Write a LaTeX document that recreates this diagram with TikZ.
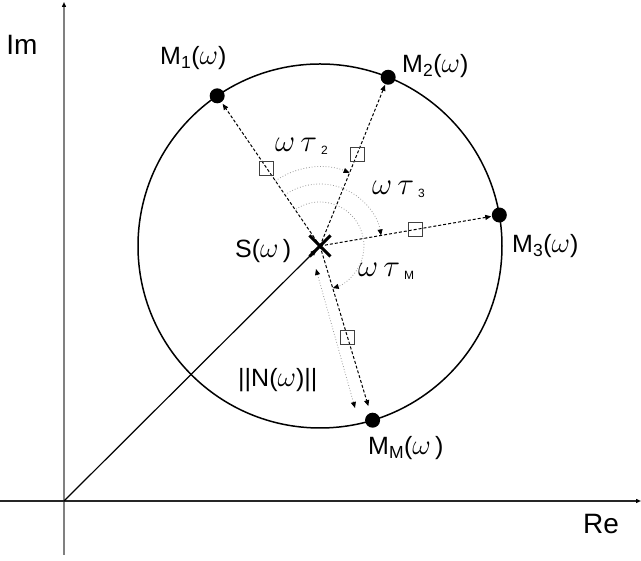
\documentclass[tikz,border=0pt]{standalone}
\usepackage{fontspec}
\usepackage{graphicx}
\setmainfont{Liberation Sans}
\newcommand{\om}{\scalebox{1.15}{\(\omega\)}}
\newcommand{\omt}{\scalebox{1.25}{\(\omega\,\tau\)}}
\usetikzlibrary{arrows.meta,calc,shapes.misc}
\begin{document}
\begin{tikzpicture}[x=1pt,y=1pt,
  lab/.style={font=\fontsize{25}{30}\selectfont, inner sep=0pt, anchor=base west},
  axlab/.style={font=\fontsize{28}{32}\selectfont, inner sep=0pt},
  ang/.style={font=\fontsize{24}{28}\selectfont, inner sep=0pt, anchor=base west},
  dot/.style={circle, fill=black, minimum size=15pt, inner sep=0pt},
  sq/.style={draw=black!75, line width=0.8pt, minimum size=14pt, inner sep=0pt},
  tip/.style={-{Triangle[length=6pt,width=5pt,color=black]}},
  ray/.style={dash pattern=on 3pt off 2pt, line width=1pt, tip},
  arcst/.style={black!40, dotted, line width=0.8pt, tip},
  axis/.style={line width=1.4pt, -{Triangle[length=5pt,width=4pt,color=black]}}
]
\useasboundingbox (0,0) rectangle (641,561);
% axes
\coordinate (O) at (64,60);
\coordinate (Ytop) at (64,559);
\coordinate (Ybot) at (64,6);
\coordinate (Xl) at (0,60);
\coordinate (Xr) at (641,60);
\draw[axis, black!50] (Ybot) -- (Ytop);
\draw[axis, black!85] (Xl) -- (Xr);
\node[axlab] (im) at (22,516) {Im};
\node[axlab] (re) at (601,37) {Re};
% centre and circle
\coordinate (S) at (320,315);
\draw[line width=1.5pt] (S) circle[radius=182];
\node[dot] (M1) at ($(S)+(124.4:182)$) {};
\node[dot] (M2) at ($(S)+(68:182)$) {};
\node[dot] (M3) at ($(S)+(9.8:182)$) {};
\node[dot] (MM) at ($(S)+(-73.2:182)$) {};
% rays
\draw[ray, shorten >=2pt] (S) -- (M1);
\draw[ray, shorten >=0.5pt] (S) -- (M2);
\draw[ray, shorten >=0.5pt] (S) -- (M3);
\draw[ray, shorten >=7pt] (S) -- (MM);
% squares
\node[sq] (Q1) at ($(S)!94pt!(M1)$) {};
\node[sq] (Q2) at ($(S)!99pt!(M2)$) {};
\node[sq] (Q3) at ($(S)!97pt!(M3)$) {};
\node[sq] (QM) at ($(S)!95pt!(MM)$) {};
% angle arcs
\draw[arcst] ($(S)+(124.4:79)$) arc[start angle=124.4, end angle=68, radius=79];
\draw[arcst] ($(S)+(124.4:62)$) arc[start angle=124.4, end angle=9.8, radius=62];
\draw[arcst] ($(S)+(123:44)$) arc[start angle=123, end angle=-73.2, radius=44];
% norm indicator
\coordinate (N1) at (316,292);
\coordinate (N2) at (355,153);
\draw[black!40, dotted, line width=0.8pt, {Triangle[length=6pt,width=5pt,color=black]}-{Triangle[length=6pt,width=5pt,color=black]}] (N1) -- (N2);
% vector from origin
\draw[line width=1.2pt, -{Triangle[length=7pt,width=5pt]}, shorten >=4pt] (O) -- (S);
% cross
\node[cross out, draw, line width=3pt, minimum size=18pt, inner sep=0pt] (Sx) at (S) {};
% labels
\node[lab] (l1) at (160,496) {M\textsubscript{1}(\om)};
\node[lab] (l2) at (402,488) {M\textsubscript{2}(\om)};
\node[lab] (l3) at (512,308) {M\textsubscript{3}(\om)};
\node[lab] (lM) at (368,106) {M\textsubscript{M}(\om\,)};
\node[lab] (lS) at (235,303) {S(\om\,)};
\node[lab] (lN) at (238,174) {||N(\om)||};
\node[ang] (t2) at (275,409) {\omt\,\raisebox{-3pt}{\fontsize{12}{12}\selectfont 2}};
\node[ang] (t3) at (372,366) {\omt\,\raisebox{-3pt}{\fontsize{12}{12}\selectfont 3}};
\node[ang] (tM) at (358,284) {\omt\,\raisebox{-3pt}{\fontsize{12}{12}\selectfont M}};
\end{tikzpicture}
\end{document}
